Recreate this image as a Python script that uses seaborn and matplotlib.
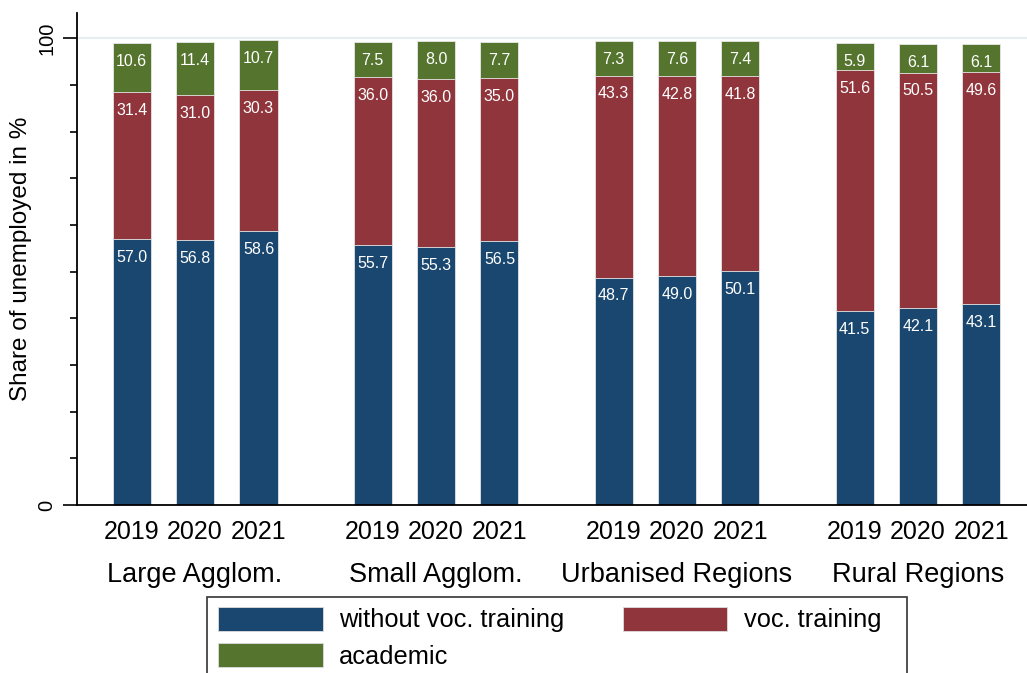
import numpy as np
import pandas as pd
import matplotlib
matplotlib.use("Agg")
import matplotlib.pyplot as plt
from matplotlib.patches import Patch, Rectangle
from matplotlib.ticker import FixedLocator
import seaborn as sns

# Region types and survey years
regions = ["Large Agglom.", "Small Agglom.", "Urbanised Regions", "Rural Regions"]
years = ["2019", "2020", "2021"]

# Shares of the unemployed by qualification level (in %), per region and year
without_voc = [57.0, 56.8, 58.6, 55.7, 55.3, 56.5, 48.7, 49.0, 50.1, 41.5, 42.1, 43.1]
voc_training = [31.4, 31.0, 30.3, 36.0, 36.0, 35.0, 43.3, 42.8, 41.8, 51.6, 50.5, 49.6]
academic = [10.6, 11.4, 10.7, 7.5, 8.0, 7.7, 7.3, 7.6, 7.4, 5.9, 6.1, 6.1]

series_names = ["without voc. training", "voc. training", "academic"]
colors = ["#1a476f", "#90353b", "#55752f"]

sns.set_style("ticks")
plt.rcParams["font.family"] = ["Liberation Sans", "DejaVu Sans"]
plt.rcParams.update({"text.color": "black", "axes.labelcolor": "black",
                     "xtick.color": "black", "ytick.color": "black"})

group_step = 3.8
pos = [g * group_step + i for g in range(len(regions)) for i in range(len(years))]

df = pd.DataFrame({
    "pos": pos,
    "region": np.repeat(regions, len(years)),
    "year": years * len(regions),
    "without": without_voc,
    "voc": voc_training,
    "academic": academic,
})
df["cum1"] = df["without"]
df["cum2"] = df["without"] + df["voc"]
df["cum3"] = df["cum2"] + df["academic"]

W, H = 1027, 673
fig = plt.figure(figsize=(W / 100, H / 100), dpi=100)
ax = fig.add_axes([77.3 / W, 1 - 505 / H, 1 - 77.3 / W, (505 - 13) / H])

# stacked bars drawn as overlapping cumulative totals, tallest first
for col, color in zip(["cum3", "cum2", "cum1"], colors[::-1]):
    sns.barplot(data=df, x="pos", y=col, native_scale=True, color=color,
                width=0.6, saturation=1, edgecolor="#e8e8e8", linewidth=0.6,
                errorbar=None, ax=ax)

# segment value labels, placed just inside the top of each segment
offset = 3.9
for _, r in df.iterrows():
    for top, val in [(r["cum1"], r["without"]), (r["cum2"], r["voc"]), (r["cum3"], r["academic"])]:
        ax.text(r["pos"], top - offset, f"{val:.1f}", ha="center", va="center",
                color="white", fontsize=11.5)

ax.set_xlim(-0.858, 14.12)
ax.set_ylim(0, 105.4)
ax.set_xticks(pos)
ax.set_xticklabels(df["year"], fontsize=18)
ax.tick_params(axis="x", length=0, pad=11)
ax.set_yticks([0, 100])
ax.set_yticklabels(["0", "100"], rotation=90, va="center", fontsize=14.5)
ax.yaxis.set_minor_locator(FixedLocator(list(range(10, 100, 10))))
ax.tick_params(axis="y", which="major", length=10, width=1.2, pad=5)
ax.tick_params(axis="y", which="minor", length=5, width=1.2)
ax.axhline(100, color="#e6eef2", lw=1.5, zorder=0)

ax.set_xlabel("")
ax.set_ylabel("Share of unemployed in %", fontsize=17.5, labelpad=4)
sns.despine(ax=ax, top=True, right=True)
for side in ["left", "bottom"]:
    ax.spines[side].set_linewidth(1.3)
    ax.spines[side].set_color("black")

# region names beneath the year labels
for g, name in enumerate(regions):
    ax.text(g * group_step + 1, -15.0, name, ha="center", va="center",
            fontsize=19.5, transform=ax.transData, clip_on=False)

# legend: two columns in a square box that runs past the bottom edge
handles = [Patch(facecolor=colors[0], edgecolor="#dddddd", lw=0.6),
           Patch(facecolor=colors[2], edgecolor="#dddddd", lw=0.6),
           Patch(facecolor=colors[1], edgecolor="#dddddd", lw=0.6)]
labels = [series_names[0], series_names[2], series_names[1]]
leg = fig.legend(handles, labels, loc="upper left",
                 bbox_to_anchor=(218.3 / W, 1 - 606.5 / H), ncol=2,
                 fontsize=18.3, frameon=False,
                 handlelength=4.1, handleheight=1.08, handletextpad=0.65,
                 columnspacing=2.31, labelspacing=0.42, borderpad=0,
                 borderaxespad=0)
fig.add_artist(Rectangle((206.7 / W, -0.05), (906.7 - 206.7) / W, 0.05 + 1 - 597 / H,
                         transform=fig.transFigure, fill=False,
                         edgecolor="#333333", lw=1.2))

fig.savefig("out.png", dpi=100)
